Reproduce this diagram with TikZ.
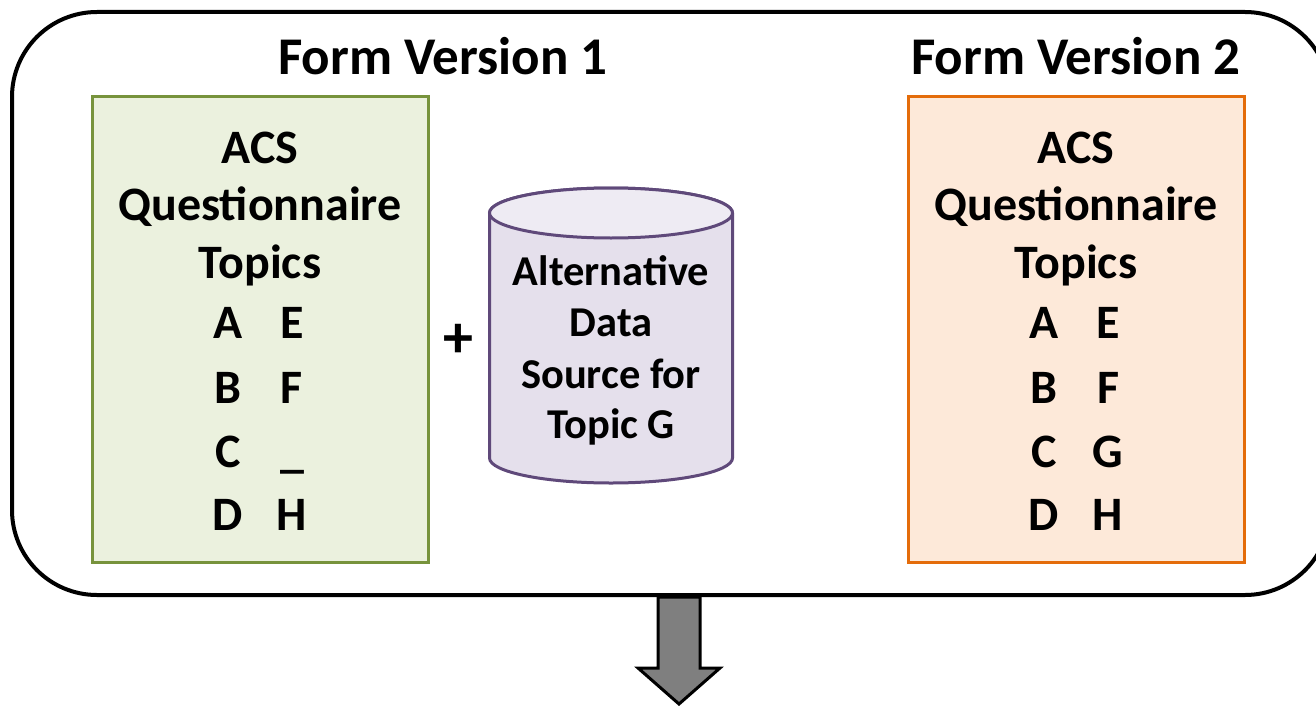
\documentclass[tikz,border=0pt]{standalone}
\usepackage{fontspec}
\setmainfont{Carlito}
\definecolor{grnfill}{HTML}{EBF1DE}
\definecolor{grnline}{HTML}{77933C}
\definecolor{orgfill}{HTML}{FDE9D9}
\definecolor{orgline}{HTML}{E46C0A}
\definecolor{cylfill}{HTML}{E5E0EC}
\definecolor{cyltop}{HTML}{EEEBF3}
\definecolor{cylline}{HTML}{5F497A}
\definecolor{arrfill}{HTML}{7F7F7F}
\tikzset{
  title/.style={anchor=base, font=\fontsize{53}{60}\selectfont\bfseries},
  boxtxt/.style={anchor=base, font=\fontsize{48}{54}\selectfont\bfseries},
  cyltxt/.style={anchor=base, font=\fontsize{42.5}{48}\selectfont\bfseries},
  topicbox/.style={draw, line width=3pt, minimum width=336pt, minimum height=465pt, inner sep=0pt},
}
\begin{document}
\begin{tikzpicture}[x=1pt, y=-1pt]
\useasboundingbox (0,0) rectangle (1316,706);
% outer frame
\draw[line width=4pt, rounded corners=85pt] (12,12) rectangle (1330,595);
% titles
\node[title] (t1) at (443,75) {Form Version 1};
\node[title] (t2) at (1076,75) {Form Version 2};
% box 1
\node[topicbox, fill=grnfill, draw=grnline] (b1) at (260,329.5) {};
\node[boxtxt] (b1l1) at (260,163) {ACS};
\node[boxtxt] (b1l2) at (260,220) {Questionnaire};
\node[boxtxt] (b1l3) at (260,278) {Topics};
\node[boxtxt] (b1a) at (228,338) {A};
\node[boxtxt] (b1e) at (292,338) {E};
\node[boxtxt] (b1b) at (228,403) {B};
\node[boxtxt] (b1f) at (292,403) {F};
\node[boxtxt] (b1c) at (228,467) {C};
\node[boxtxt] (b1g) at (292,467) {\_};
\node[boxtxt] (b1d) at (228,530) {D};
\node[boxtxt] (b1h) at (292,530) {H};
% plus
\node[anchor=base, font=\fontsize{60}{64}\selectfont\bfseries] (plus) at (458,357) {+};
% cylinder
\draw[line width=3pt, draw=cylline, fill=cylfill]
  (489.5,213) -- (489.5,458) arc[start angle=180, end angle=0, x radius=121.5, y radius=25] -- (732.5,213)
  arc[start angle=0, end angle=-180, x radius=121.5, y radius=25] -- cycle;
\draw[line width=3pt, draw=cylline, fill=cyltop] (611,213) ellipse[x radius=121.5, y radius=25];
\node[cyltxt] (c1) at (611,285) {Alternative};
\node[cyltxt] (c2) at (611,336) {Data};
\node[cyltxt] (c3) at (611,388) {Source for};
\node[cyltxt] (c4) at (611,438) {Topic G};
% box 2
\node[topicbox, fill=orgfill, draw=orgline] (b2) at (1076,329.5) {};
\node[boxtxt] (b2l1) at (1076,163) {ACS};
\node[boxtxt] (b2l2) at (1076,220) {Questionnaire};
\node[boxtxt] (b2l3) at (1076,278) {Topics};
\node[boxtxt] (b2a) at (1044,338) {A};
\node[boxtxt] (b2e) at (1108,338) {E};
\node[boxtxt] (b2b) at (1044,403) {B};
\node[boxtxt] (b2f) at (1108,403) {F};
\node[boxtxt] (b2c) at (1044,467) {C};
\node[boxtxt] (b2g) at (1108,467) {G};
\node[boxtxt] (b2d) at (1044,530) {D};
\node[boxtxt] (b2h) at (1108,530) {H};
% down arrow
\draw[line width=3pt, fill=arrfill, line join=miter]
  (658,597) -- (658,668) -- (638,668) -- (679,704) -- (720,668) -- (700,668) -- (700,597) -- cycle;
\end{tikzpicture}
\end{document}
